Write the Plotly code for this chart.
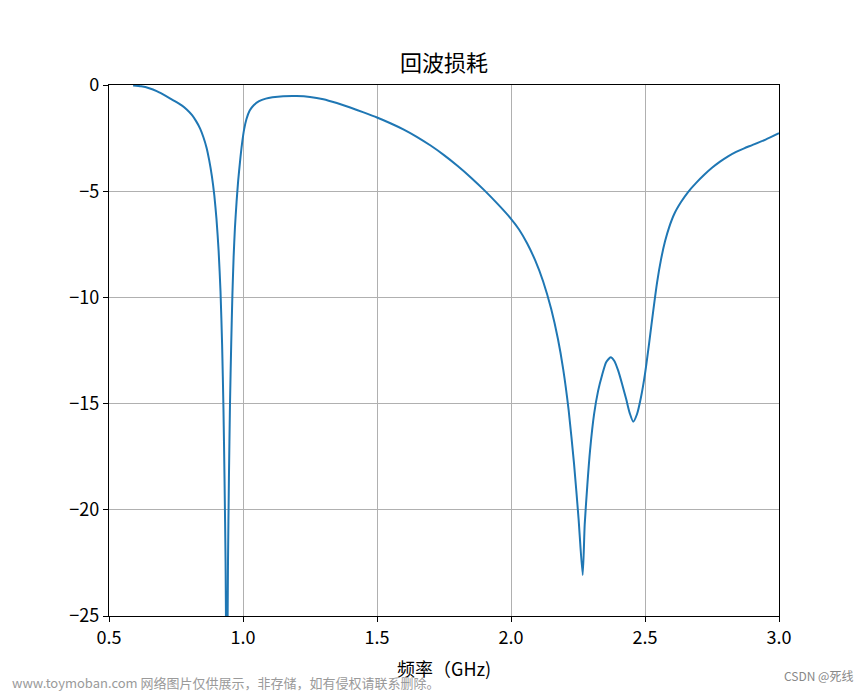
import plotly.graph_objects as go

freq_ghz = [0.59, 0.62, 0.65, 0.68, 0.71, 0.74, 0.77, 0.79, 0.81, 0.825, 0.84, 0.852,
            0.864, 0.874, 0.884, 0.893, 0.901, 0.909, 0.916, 0.922, 0.927, 0.931, 0.935,
            0.9395, 0.944, 0.9475, 0.9515, 0.956, 0.9604, 0.965, 0.970, 0.976, 0.982,
            0.989, 0.996, 1.004, 1.013, 1.025, 1.04, 1.06, 1.085, 1.11, 1.15, 1.20, 1.25,
            1.30, 1.35, 1.40, 1.45, 1.50, 1.55, 1.60, 1.65, 1.70, 1.75, 1.80, 1.85, 1.90,
            1.95, 2.00, 2.03, 2.06, 2.09, 2.12, 2.15, 2.175, 2.195, 2.215, 2.235, 2.252,
            2.2675, 2.275, 2.285, 2.295, 2.31, 2.325, 2.34, 2.355, 2.372, 2.385, 2.40,
            2.415, 2.43, 2.443, 2.456, 2.47, 2.485, 2.50, 2.515, 2.53, 2.545, 2.56, 2.575,
            2.59, 2.61, 2.635, 2.66, 2.69, 2.72, 2.75, 2.78, 2.81, 2.84, 2.87, 2.90, 2.95,
            3.0]
s11_db = [-0.02, -0.06, -0.15, -0.3, -0.5, -0.72, -0.95, -1.15, -1.42, -1.7, -2.05, -2.45,
          -2.95, -3.55, -4.3, -5.2, -6.3, -7.8, -9.7, -12.2, -15.2, -18.5, -22.5,
          -30.0, -22.5, -18.5, -15.0, -12.2, -9.9, -8.1, -6.7, -5.5, -4.5,
          -3.6, -2.8, -2.1, -1.6, -1.2, -0.95, -0.76, -0.64, -0.58, -0.53, -0.52, -0.56,
          -0.67, -0.85, -1.06, -1.29, -1.53, -1.8, -2.1, -2.45, -2.85, -3.3, -3.8, -4.35, -4.95,
          -5.6, -6.3, -6.8, -7.45, -8.25, -9.25, -10.55, -11.95, -13.4, -15.3, -17.8, -20.4,
          -23.07, -20.7, -18.8, -17.2, -15.5, -14.4, -13.65, -13.05, -12.82, -12.98, -13.45,
          -14.1, -14.8, -15.45, -15.85, -15.5, -14.7, -13.6, -12.2, -10.7, -9.3, -8.2, -7.35,
          -6.7, -6.05, -5.5, -5.05, -4.62, -4.24, -3.9, -3.61, -3.36, -3.15, -2.98, -2.83, -2.57,
          -2.27]

x_ticks = [0.5, 1.0, 1.5, 2.0, 2.5, 3.0]
x_tick_labels = ["0.5", "1.0", "1.5", "2.0", "2.5", "3.0"]
y_ticks = [0, -5, -10, -15, -20, -25]
y_tick_labels = ["0", "\u22125", "\u221210", "\u221215", "\u221220", "\u221225"]

title_text = "回波损耗"
xlabel_text = "频率（GHz)"
watermark_left = "www.toymoban.com 网络图片仅供展示，非存储，如有侵权请联系删除。"
watermark_right = "CSDN @死线"

FONT = "Noto Sans CJK SC, Noto Sans, sans-serif"
OFF = 8  # page body margin offset

fig = go.Figure()
fig.add_trace(go.Scatter(x=freq_ghz, y=s11_db, mode="lines",
                         line=dict(color="#1f77b4", width=2, shape="spline", smoothing=0.6),
                         showlegend=False))

axis_common = dict(showline=True, linecolor="black", linewidth=1.3, mirror=True,
                   ticks="outside", ticklen=5, tickwidth=1.3, tickcolor="black",
                   showgrid=True, gridcolor="#b0b0b0", gridwidth=1, zeroline=False,
                   tickfont=dict(family=FONT, size=18, color="black"))

fig.update_xaxes(range=[0.5, 3.0], tickvals=x_ticks, ticktext=x_tick_labels, **axis_common)
fig.update_yaxes(range=[-25, 0], tickvals=y_ticks, ticktext=y_tick_labels, **axis_common)

W, H = 865 - OFF, 692 - OFF
fig.update_layout(
    width=W, height=H,
    margin=dict(l=109 - OFF, r=86, t=85 - OFF, b=76, pad=0),
    paper_bgcolor="white", plot_bgcolor="white",
    title=dict(text=title_text, x=0.5, xanchor="center", xref="paper",
               y=1 - (63 - OFF) / H, yref="container", yanchor="middle",
               font=dict(family=FONT, size=22, color="black")),
    annotations=[
        dict(text=xlabel_text, x=0.5, xref="paper", y=-(668 - 616) / 531, yref="paper",
             xanchor="center", yanchor="middle", showarrow=False,
             font=dict(family=FONT, size=18, color="black")),
        dict(text=watermark_left, x=(10 - 109) / 670, xref="paper",
             y=-(682 - 616) / 531, yref="paper", xanchor="left", yanchor="middle",
             showarrow=False, font=dict(family=FONT, size=13, color="#9a9a9a")),
        dict(text=watermark_right, x=(855 - 109) / 670, xref="paper",
             y=-(675 - 616) / 531, yref="paper", xanchor="right", yanchor="middle",
             showarrow=False, font=dict(family=FONT, size=12, color="#888888")),
    ],
)

fig.write_html("out.html")
